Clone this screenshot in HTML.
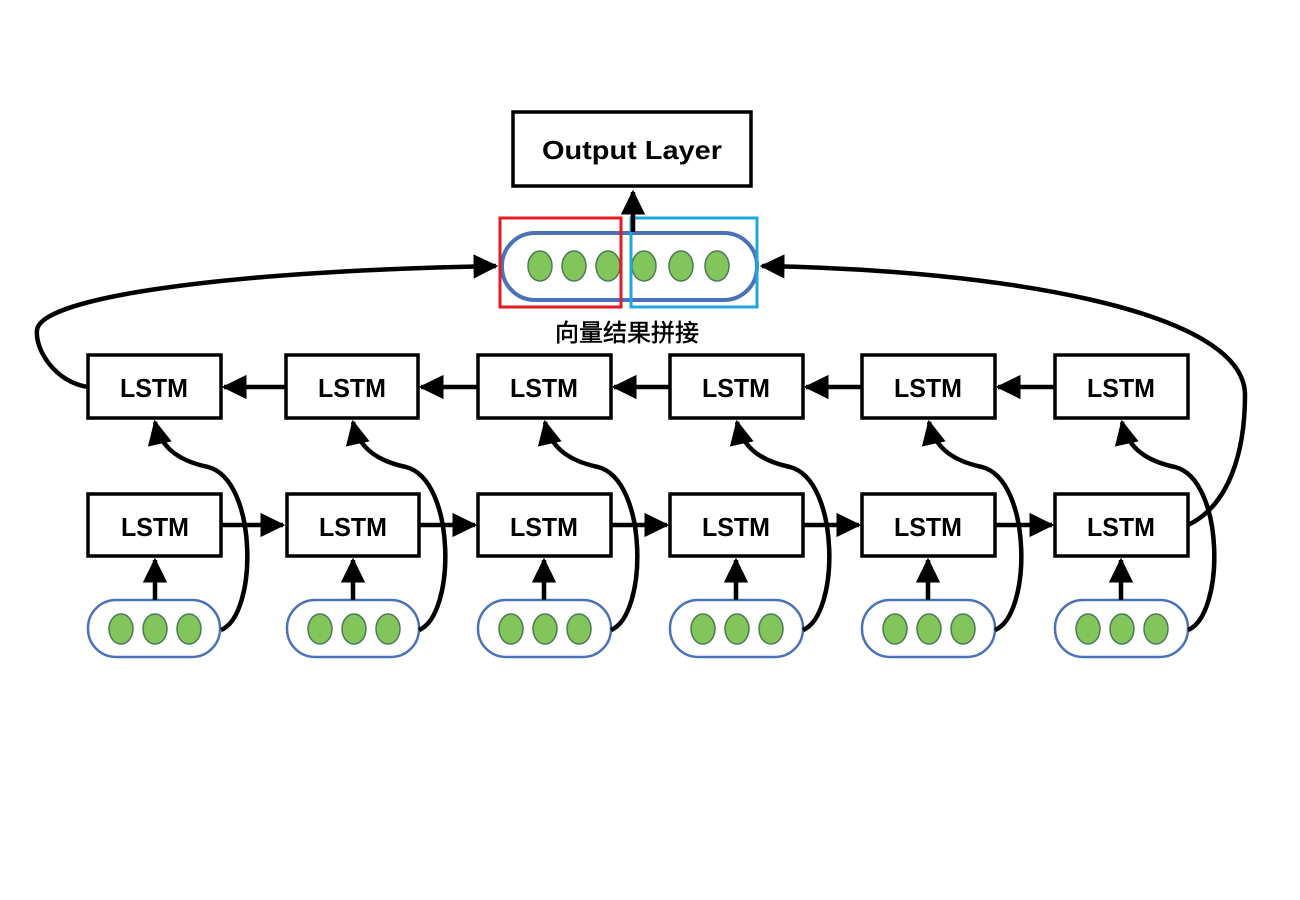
<!DOCTYPE html>
<html><head><meta charset="utf-8"><style>body{margin:0;background:#fff}svg{display:block}</style></head><body>
<svg width="1300" height="900" viewBox="0 0 1300 900" xmlns="http://www.w3.org/2000/svg">
<defs>
<marker id="a" markerWidth="6" markerHeight="6" refX="5" refY="3" orient="auto" markerUnits="strokeWidth"><path d="M0,0.3 L5.5,3 L0,5.7 Z" fill="#000"/></marker>
</defs>
<g fill="#fff" stroke="#000" stroke-width="3.5">
<rect x="513" y="112" width="238" height="74"/>
<rect x="88" y="355" width="133" height="63"/><rect x="286" y="355" width="132" height="63"/><rect x="478" y="355" width="133" height="63"/><rect x="670" y="355" width="133" height="63"/><rect x="862" y="355" width="133" height="63"/><rect x="1055" y="355" width="133" height="63"/>
<rect x="88" y="494" width="133" height="62"/><rect x="287" y="494" width="132" height="62"/><rect x="478" y="494" width="133" height="62"/><rect x="670" y="494" width="133" height="62"/><rect x="862" y="494" width="133" height="62"/><rect x="1055" y="494" width="133" height="62"/>
</g>
<g font-family="Liberation Sans, sans-serif" font-size="26" font-weight="bold" text-anchor="middle" fill="#000">
<text x="632" y="159" font-size="26" textLength="180" lengthAdjust="spacingAndGlyphs">Output Layer</text>
<text x="154" y="397" textLength="68" lengthAdjust="spacingAndGlyphs">LSTM</text><text x="352" y="397" textLength="68" lengthAdjust="spacingAndGlyphs">LSTM</text><text x="544" y="397" textLength="68" lengthAdjust="spacingAndGlyphs">LSTM</text><text x="736" y="397" textLength="68" lengthAdjust="spacingAndGlyphs">LSTM</text><text x="928" y="397" textLength="68" lengthAdjust="spacingAndGlyphs">LSTM</text><text x="1121" y="397" textLength="68" lengthAdjust="spacingAndGlyphs">LSTM</text>
<text x="155" y="536" textLength="68" lengthAdjust="spacingAndGlyphs">LSTM</text><text x="353" y="536" textLength="68" lengthAdjust="spacingAndGlyphs">LSTM</text><text x="544" y="536" textLength="68" lengthAdjust="spacingAndGlyphs">LSTM</text><text x="736" y="536" textLength="68" lengthAdjust="spacingAndGlyphs">LSTM</text><text x="928" y="536" textLength="68" lengthAdjust="spacingAndGlyphs">LSTM</text><text x="1121" y="536" textLength="68" lengthAdjust="spacingAndGlyphs">LSTM</text>
<text x="627" y="341" font-size="24" font-weight="normal" stroke="#000" stroke-width="0.5" font-family="Liberation Sans, Noto Sans CJK SC, sans-serif">向量结果拼接</text>
</g>
<g fill="#fff" stroke="#4a72b8" stroke-width="2.5">
<rect x="88" y="600" width="132" height="57" rx="28"/><rect x="287" y="600" width="132" height="57" rx="28"/><rect x="478" y="600" width="133" height="57" rx="28"/><rect x="670" y="600" width="133" height="57" rx="28"/><rect x="862" y="600" width="133" height="57" rx="28"/><rect x="1055" y="600" width="133" height="57" rx="28"/>
<rect x="502" y="233" width="255" height="67" rx="33" stroke-width="4"/>
</g>
<g fill="#82c55a" stroke="#4f7a5a" stroke-width="1.5">
<ellipse cx="121" cy="629" rx="12" ry="15"/><ellipse cx="155" cy="629" rx="12" ry="15"/><ellipse cx="189" cy="629" rx="12" ry="15"/>
<ellipse cx="320" cy="629" rx="12" ry="15"/><ellipse cx="354" cy="629" rx="12" ry="15"/><ellipse cx="388" cy="629" rx="12" ry="15"/>
<ellipse cx="511" cy="629" rx="12" ry="15"/><ellipse cx="545" cy="629" rx="12" ry="15"/><ellipse cx="579" cy="629" rx="12" ry="15"/>
<ellipse cx="703" cy="629" rx="12" ry="15"/><ellipse cx="737" cy="629" rx="12" ry="15"/><ellipse cx="771" cy="629" rx="12" ry="15"/>
<ellipse cx="895" cy="629" rx="12" ry="15"/><ellipse cx="929" cy="629" rx="12" ry="15"/><ellipse cx="963" cy="629" rx="12" ry="15"/>
<ellipse cx="1088" cy="629" rx="12" ry="15"/><ellipse cx="1122" cy="629" rx="12" ry="15"/><ellipse cx="1156" cy="629" rx="12" ry="15"/>
<ellipse cx="540" cy="266" rx="12" ry="15"/><ellipse cx="574" cy="266" rx="12" ry="15"/><ellipse cx="608" cy="266" rx="12" ry="15"/>
<ellipse cx="644" cy="266" rx="12" ry="15"/><ellipse cx="681" cy="266" rx="12" ry="15"/><ellipse cx="717" cy="266" rx="12" ry="15"/>
</g>
<rect x="500" y="218" width="121" height="89" fill="none" stroke="#e31b23" stroke-width="3"/>
<rect x="631" y="218" width="126" height="89" fill="none" stroke="#1ea7e1" stroke-width="3"/>
<g fill="none" stroke="#000" stroke-width="4.5" marker-end="url(#a)">
<path d="M633,232 L633,192"/>
<path d="M286,387 L224,387"/><path d="M478,387 L421,387"/><path d="M670,387 L614,387"/><path d="M862,387 L806,387"/><path d="M1055,387 L998,387"/>
<path d="M221,525 L283,525"/><path d="M419,525 L475,525"/><path d="M611,525 L667,525"/><path d="M803,525 L859,525"/><path d="M995,525 L1052,525"/>
<path d="M155,600 L155,560"/><path d="M353,600 L353,560"/><path d="M544,600 L544,560"/><path d="M736,600 L736,560"/><path d="M928,600 L928,560"/><path d="M1121,600 L1121,560"/>
<path d="M221,630 C258,615 258,480 208,467 C175,460 160,445 155,422"/>
<path d="M419,630 C456,615 456,480 406,467 C373,460 358,445 353,422"/>
<path d="M611,630 C648,615 648,480 598,467 C565,460 550,445 545,422"/>
<path d="M803,630 C840,615 840,480 790,467 C757,460 742,445 737,422"/>
<path d="M995,630 C1032,615 1032,480 982,467 C949,460 934,445 929,422"/>
<path d="M1188,630 C1225,615 1225,480 1175,467 C1142,460 1127,445 1122,422"/>
<path d="M88,387 C55,382 35,350 37,330 C40,300 200,272 496,266"/>
<path d="M1188,525 C1230,505 1245,450 1245,395 C1245,310 1000,270 762,266"/>
</g>
</svg>
</body></html>
